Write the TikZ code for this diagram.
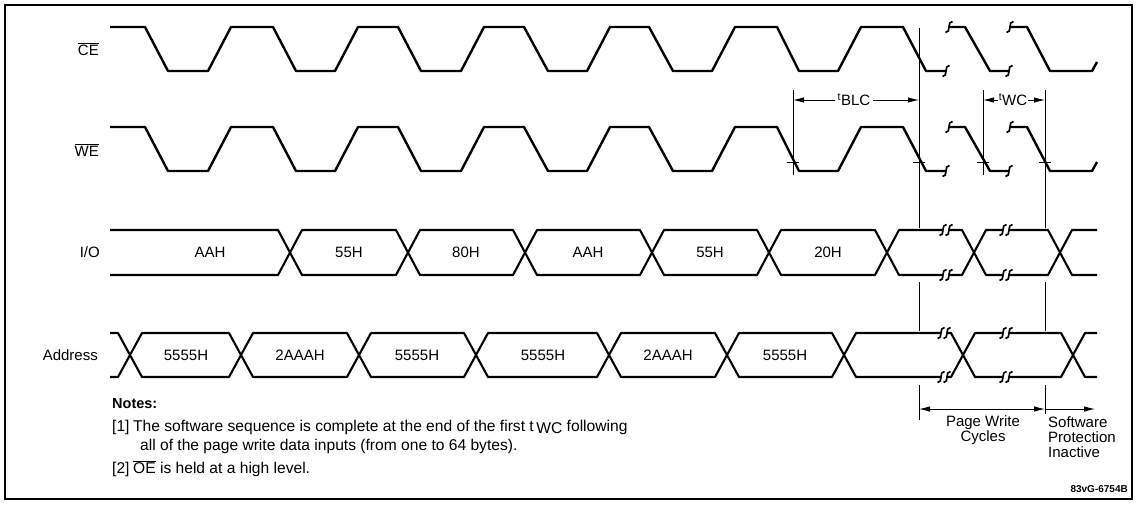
\documentclass[tikz,border=0pt]{standalone}
\usepackage{fontspec}
\setmainfont{Liberation Sans}
\usetikzlibrary{arrows.meta}
\tikzset{
  wave/.style={line width=2.4pt, line join=round},
  bus/.style={line width=2.1pt, line join=round},
  thinl/.style={line width=0.9pt},
  sqq/.style={line width=1.7pt},
  dim/.style={line width=0.9pt, {Latex[length=11pt,width=5.5pt]}-{Latex[length=11pt,width=5.5pt]}},
  dimr/.style={line width=0.9pt, -{Latex[length=11pt,width=5.5pt]}},
  txt/.style={font=\fontsize{15}{16.5}\selectfont, inner sep=0pt},
  note/.style={font=\fontsize{15.6}{17}\selectfont, inner sep=0pt, anchor=west},
  frame/.style={line width=1.5pt},
}
% S-shaped break mark centred at (#1,#2)
\newcommand\brkS[2]{\draw[sqq] ({#1-3.5},{#2+5.5}) .. controls ({#1+2.5},{#2+6}) and ({#1-2.5},{#2-6}) .. ({#1+3.5},{#2-5.5});}
\newcommand\brkD[2]{\brkS{#1-3}{#2}\brkS{#1+3}{#2}}
% bus segment between two crossings #1 and #2, top #3, bottom #4
\newcommand\hexseg[4]{\draw[bus] (#1,{(#3+#4)/2}) -- ({#1+12},#3) -- ({#2-12},#3) -- (#2,{(#3+#4)/2}) -- ({#2-12},#4) -- ({#1+12},#4) -- cycle;}
% strobe waveform, high #1, low #2
\newcommand\strobe[2]{%
  \draw[wave] (110,#1) -- (145,#1) -- (168,#2) -- (208,#2) -- (231,#1) -- (273,#1) -- (296,#2) -- (335,#2) -- (358,#1) -- (398,#1) -- (421,#2) -- (461,#2) -- (484,#1) -- (524,#1) -- (548,#2) -- (587,#2) -- (610,#1) -- (649,#1) -- (673,#2) -- (712,#2) -- (735,#1) -- (777,#1) -- (799,#2) -- (838,#2) -- (861,#1) -- (903,#1) -- (926,#2) -- (946,#2);
  \brkS{946}{#2}
  \brkS{949}{#1}
  \draw[wave] (949,#1) -- (965,#1) -- (990,#2) -- (1009,#2);
  \brkS{1009}{#2}
  \brkS{1010}{#1}
  \draw[wave] (1010,#1) -- (1027,#1) -- (1050,#2) -- (1092,#2) -- ({1097},{#2-9});
}
\begin{document}
\begin{tikzpicture}[x=1pt,y=-1pt]
\useasboundingbox (0,0) rectangle (1139,523);
\draw[frame] (5,5) rectangle (1132,499);

% signal labels
\node[txt,anchor=east] (lce) at (99,49) {$\overline{\hbox{CE}}$};
\node[txt,anchor=east] (lwe) at (99,150) {$\overline{\hbox{WE}}$};
\node[txt,anchor=east] (lio) at (100,252.5) {I/O};
\node[txt,anchor=east] (lad) at (98,355) {Address};

% CE and WE
\strobe{27}{71}
\strobe{127}{171}

% reference lines
\draw[thinl] (793,90) -- (793,175);
\draw[thinl] (983,90) -- (983,175);
\draw[thinl] (919,28) -- (919,228) (919,282) -- (919,331) (919,385) -- (919,420);
\draw[thinl] (1045,90) -- (1045,228) (1045,282) -- (1045,331) (1045,385) -- (1045,414);
% tick marks on WE
\foreach \tx in {793,919,983,1045} \draw[thinl] ({\tx-6},162) -- ({\tx+6},162);

% timing dimensions
\draw[dim] (793,100) -- (919,100);
\node[txt,fill=white,inner xsep=3pt,inner ysep=1pt] (tblc) at (854,100) {\textsuperscript{t}BLC};
\draw[dim] (983,100) -- (1045,100);
\node[txt,fill=white,inner xsep=0.5pt,inner ysep=1pt] (twc) at (1013,100) {\textsuperscript{t}WC};

% I/O bus
\draw[bus] (110,230) -- (278,230) -- (290,252.5) -- (278,275) -- (110,275);
\hexseg{290}{408}{230}{275}
\hexseg{408}{525}{230}{275}
\hexseg{525}{652}{230}{275}
\hexseg{652}{769}{230}{275}
\hexseg{769}{887}{230}{275}
\draw[bus] (943,230) -- (899,230) -- (887,252.5) -- (899,275) -- (943,275);
\brkD{946}{230}\brkD{946}{275}
\draw[bus] (949,230) -- (962,230) -- (974,252.5) -- (962,275) -- (949,275);
\draw[bus] (1003,230) -- (986,230) -- (974,252.5) -- (986,275) -- (1003,275);
\brkD{1006}{230}\brkD{1006}{275}
\draw[bus] (1009,230) -- (1048,230) -- (1060,252.5) -- (1048,275) -- (1009,275);
\draw[bus] (1097,230) -- (1072,230) -- (1060,252.5) -- (1072,275) -- (1097,275);
\node[txt] (io1) at (210,252.5) {AAH};
\node[txt] (io2) at (349,252.5) {55H};
\node[txt] (io3) at (466,252.5) {80H};
\node[txt] (io4) at (588,252.5) {AAH};
\node[txt] (io5) at (710,252.5) {55H};
\node[txt] (io6) at (828,252.5) {20H};

% Address bus
\draw[bus] (110,333) -- (118,333) -- (130,355) -- (118,377) -- (110,377);
\hexseg{130}{241}{333}{377}
\hexseg{241}{359}{333}{377}
\hexseg{359}{476}{333}{377}
\hexseg{476}{609}{333}{377}
\hexseg{609}{727}{333}{377}
\hexseg{727}{844}{333}{377}
\draw[bus] (941,333) -- (856,333) -- (844,355) -- (856,377) -- (941,377);
\brkD{944}{333}\brkD{944}{377}
\draw[bus] (947,333) -- (951,333) -- (963,355) -- (951,377) -- (947,377);
\draw[bus] (1003,333) -- (975,333) -- (963,355) -- (975,377) -- (1003,377);
\brkD{1006}{333}\brkD{1006}{377}
\draw[bus] (1009,333) -- (1061,333) -- (1073,355) -- (1061,377) -- (1009,377);
\draw[bus] (1097,333) -- (1085,333) -- (1073,355) -- (1085,377) -- (1097,377);
\node[txt] (ad1) at (186,355) {5555H};
\node[txt] (ad2) at (300,355) {2AAAH};
\node[txt] (ad3) at (417,355) {5555H};
\node[txt] (ad4) at (543,355) {5555H};
\node[txt] (ad5) at (668,355) {2AAAH};
\node[txt] (ad6) at (785,355) {5555H};

% page write / software protection
\draw[dim] (919,409) -- (1045,409);
\draw[dimr] (1045,409) -- (1095,409);
\node[txt,align=center,anchor=north] (pwc) at (983,415) {Page Write\\[-1.5pt]Cycles};
\node[txt,align=left,anchor=north west] (spi) at (1048,416) {Software\\[-1.5pt]Protection\\[-1.5pt]Inactive};

% notes
\node[note,font=\bfseries\fontsize{14.5}{16}\selectfont] (nt) at (112,404) {Notes:};
\node[note] (n1a) at (112,427) {[1]};
\node[note] (n1b) at (133,427) {The software sequence is complete at the end of the first t\,\raisebox{-2.5pt}{WC} following};
\node[note] (n1c) at (140,446) {all of the page write data inputs (from one to 64 bytes).};
\node[note] (n2a) at (112,469) {[2]};
\node[note] (n2b) at (133,469) {$\overline{\hbox{OE}}$ is held at a high level.};

\node[inner sep=0pt,anchor=east,font=\bfseries\fontsize{10}{12}\selectfont] (code) at (1128,489) {83vG-6754B};
\end{tikzpicture}
\end{document}
